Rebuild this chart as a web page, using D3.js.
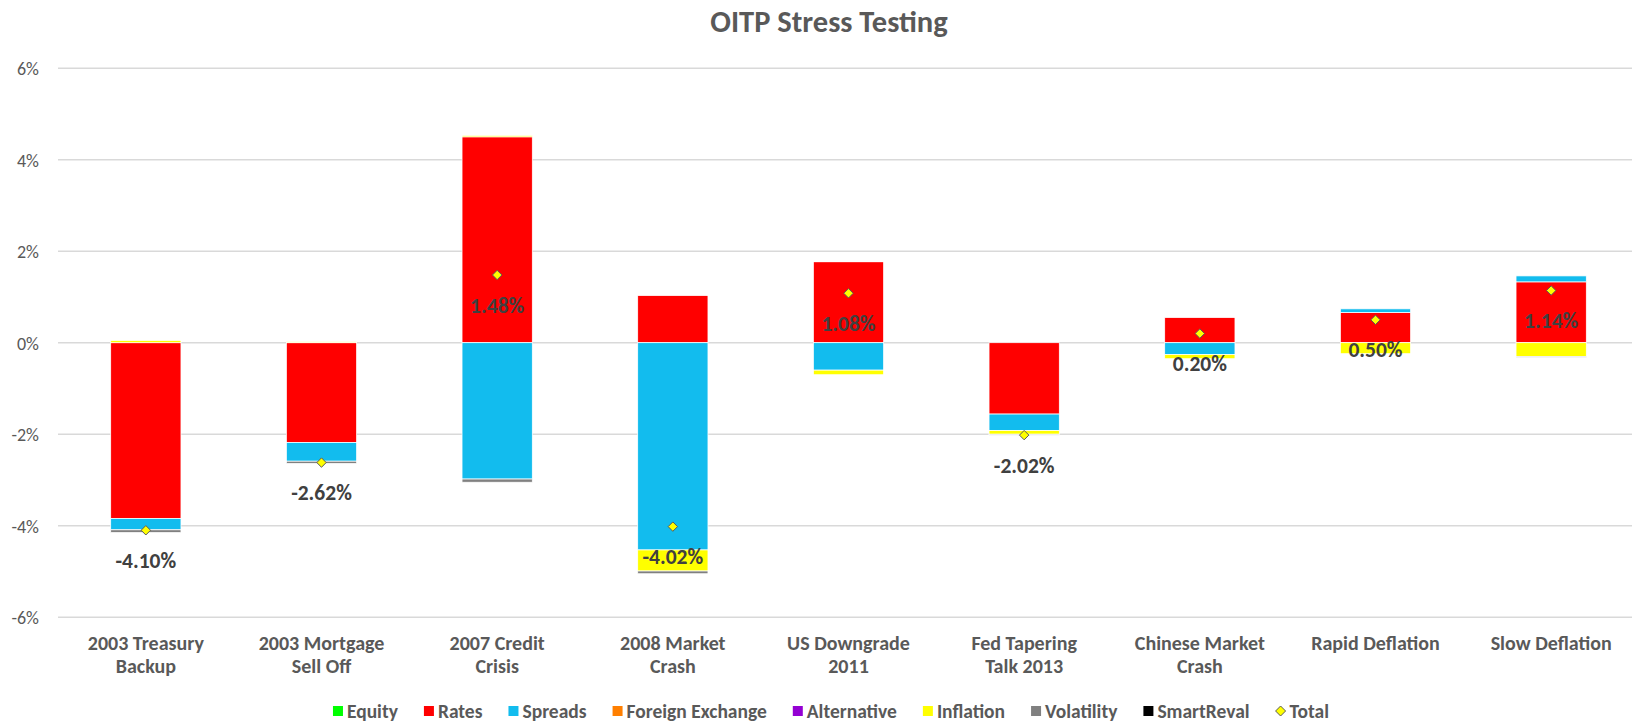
<!DOCTYPE html>
<html>
<head>
<meta charset="utf-8">
<script src="https://cdn.jsdelivr.net/npm/d3@7"></script>
<style>
  html, body { margin: 0; padding: 0; background: #fff; }
  svg { display: block; font-family: Carlito, Lato, "Open Sans", sans-serif; }
</style>
</head>
<body>
<svg id="chart" width="1632" height="723"></svg>
<script>
// ---------- data (values in %) ----------
const categories = [
  "2003 Treasury Backup", "2003 Mortgage Sell Off", "2007 Credit Crisis",
  "2008 Market Crash", "US Downgrade 2011", "Fed Tapering Talk 2013",
  "Chinese Market Crash", "Rapid Deflation", "Slow Deflation"
];
const categoryLines = [
  ["2003 Treasury", "Backup"], ["2003 Mortgage", "Sell Off"], ["2007 Credit", "Crisis"],
  ["2008 Market", "Crash"], ["US Downgrade", "2011"], ["Fed Tapering", "Talk 2013"],
  ["Chinese Market", "Crash"], ["Rapid Deflation"], ["Slow Deflation"]
];
const seriesNames = ["Equity", "Rates", "Spreads", "Foreign Exchange", "Alternative", "Inflation", "Volatility", "SmartReval"];
const seriesColors = ["#00ff00", "#ff0000", "#12bcee", "#ff7f00", "#9400d3", "#ffff00", "#808080", "#000000"];

const equity      = [0, 0, 0, 0, 0, 0, 0, 0, 0];
const rates       = [-3.84, -2.18, 4.50, 1.03, 1.77, -1.56, 0.55, 0.66, 1.33];
const spreads     = [-0.25, -0.41, -2.98, -4.53, -0.60, -0.36, -0.26, 0.08, 0.13];
const fx          = [0, 0, 0, 0, 0, 0, 0, 0, 0];
const alternative = [0, 0, 0, 0, 0, 0, 0, 0, 0];
const inflation   = [0.05, 0.02, 0.03, -0.46, -0.10, -0.08, -0.09, -0.24, -0.30];
const volatility  = [-0.06, -0.05, -0.07, -0.06, 0.01, -0.02, 0, 0, -0.02];
const smartReval  = [0, 0, 0, 0, 0, 0, 0, 0, 0];
const total       = [-4.10, -2.62, 1.48, -4.02, 1.08, -2.02, 0.20, 0.50, 1.14];

const yTicks = [-6, -4, -2, 0, 2, 4, 6];

// ---------- build table ----------
const seriesValues = [equity, rates, spreads, fx, alternative, inflation, volatility, smartReval];
const table = categories.map((c, i) => {
  const row = { category: c };
  seriesNames.forEach((s, k) => row[s] = seriesValues[k][i]);
  return row;
});

// ---------- layout ----------
const svg = d3.select("#chart");
const plotLeft = 58, plotRight = 1639, plotTop = 68.2, plotBottom = 617.2;

const x = d3.scaleBand().domain(categories).range([plotLeft, plotRight])
  .paddingInner(0.6).paddingOuter(0.3);
const y = d3.scaleLinear().domain([-6, 6]).range([plotBottom, plotTop]);

// title
svg.append("text").attr("x", 829).attr("y", 32).attr("text-anchor", "middle")
  .attr("font-size", 30.5).attr("font-weight", "bold").attr("fill", "#595959")
  .text("OITP Stress Testing");

// gridlines
svg.append("g").selectAll("line").data(yTicks).join("line")
  .attr("x1", plotLeft).attr("x2", plotRight)
  .attr("y1", d => y(d)).attr("y2", d => y(d))
  .attr("stroke", "#d9d9d9").attr("stroke-width", 1.5);

// y axis labels
const yAxis = d3.axisLeft(y).tickValues(yTicks).tickSize(0).tickPadding(0)
  .tickFormat(d => d + "%");
const yg = svg.append("g").attr("transform", `translate(${plotLeft - 19},0)`).call(yAxis);
yg.select(".domain").remove();
yg.selectAll("text").attr("font-size", 18).attr("fill", "#595959")
  .attr("font-family", "Carlito, Lato, 'Open Sans', sans-serif").attr("dy", "0.35em");

// stacked bars
const stack = d3.stack().keys(seriesNames).offset(d3.stackOffsetDiverging);
const stacked = stack(table);
svg.append("g").selectAll("g").data(stacked).join("g")
  .attr("fill", (d, i) => seriesColors[i])
  .selectAll("rect").data(d => d.filter(p => p[1] !== p[0])).join("rect")
  .attr("x", d => x(d.data.category))
  .attr("width", x.bandwidth())
  .attr("y", d => y(Math.max(d[0], d[1])))
  .attr("height", d => Math.abs(y(d[0]) - y(d[1])))
  .attr("stroke", "#ffffff").attr("stroke-width", 0.75);

// total markers
const diamond = r => `M0,${-r}L${r},0L0,${r}L${-r},0Z`;
svg.append("g").selectAll("path").data(total).join("path")
  .attr("transform", (d, i) => `translate(${x(categories[i]) + x.bandwidth() / 2},${y(d)})`)
  .attr("d", diamond(4.7))
  .attr("fill", "#ffff00").attr("stroke", "#595959").attr("stroke-width", 1);

// total labels
svg.append("g").selectAll("text").data(total).join("text")
  .attr("x", (d, i) => x(categories[i]) + x.bandwidth() / 2)
  .attr("y", d => y(d) + 30)
  .attr("dy", "0.35em")
  .attr("text-anchor", "middle").attr("font-size", 21.5).attr("font-weight", "bold")
  .attr("fill", "#404040")
  .text(d => d.toFixed(2) + "%");

// category labels
const cg = svg.append("g");
categoryLines.forEach((lines, i) => {
  const t = cg.append("text")
    .attr("x", x(categories[i]) + x.bandwidth() / 2)
    .attr("y", 650).attr("text-anchor", "middle")
    .attr("font-size", 20).attr("font-weight", "bold").attr("fill", "#595959");
  lines.forEach((ln, j) => t.append("tspan")
    .attr("x", x(categories[i]) + x.bandwidth() / 2)
    .attr("dy", j === 0 ? 0 : 23).text(ln));
});

// legend
const legendNames = seriesNames.concat(["Total"]);
const lg = svg.append("g");
const items = legendNames.map((name, i) => {
  const g = lg.append("g");
  if (i < seriesNames.length) {
    g.append("rect").attr("x", 0).attr("y", -5).attr("width", 10).attr("height", 10)
      .attr("fill", seriesColors[i]);
  } else {
    g.append("path").attr("transform", "translate(5,0)").attr("d", diamond(5))
      .attr("fill", "#ffff00").attr("stroke", "#595959").attr("stroke-width", 1);
  }
  const t = g.append("text").attr("x", 14).attr("dy", "0.35em")
    .attr("font-size", 19.5).attr("font-weight", "bold").attr("fill", "#595959").text(name);
  return { g, w: 14 + t.node().getComputedTextLength() };
});
const gap = 26;
const totalW = d3.sum(items, d => d.w) + gap * (items.length - 1);
let cx = 831 - totalW / 2;
items.forEach(it => { it.g.attr("transform", `translate(${cx},711)`); cx += it.w + gap; });
</script>
</body>
</html>
